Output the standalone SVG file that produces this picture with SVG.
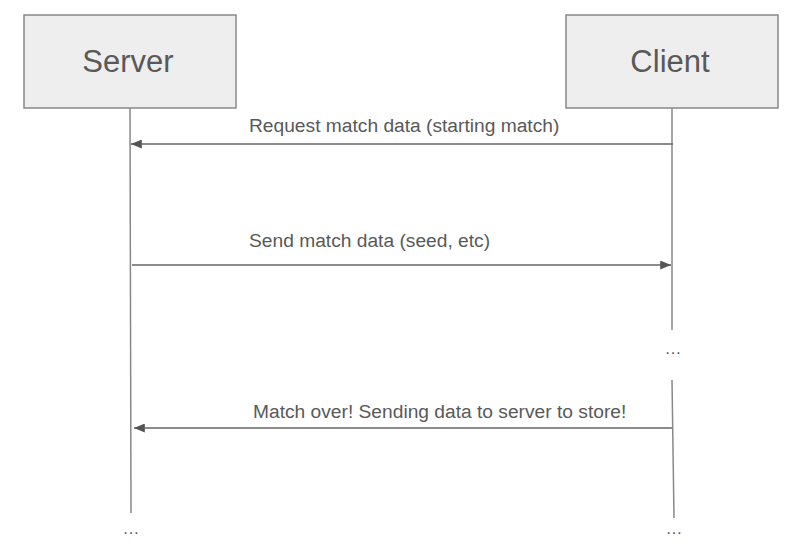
<svg xmlns="http://www.w3.org/2000/svg" width="796" height="551" viewBox="0 0 796 551">
<style>
.box{fill:#eeeeee;stroke:#888888;stroke-width:1.5}
.title{font-family:"Liberation Sans",Arial,sans-serif;font-size:31px;fill:#595959;text-anchor:middle}
.life{stroke:#888888;stroke-width:1.5;fill:none}
.msg{stroke:#666666;stroke-width:1.5;fill:none}
.lbl{font-family:"Liberation Sans",Arial,sans-serif;font-size:19.2px;fill:#595959}
.dots{font-family:"Liberation Sans",Arial,sans-serif;font-size:17px;fill:#595959;text-anchor:middle}
</style>
<defs>
<marker id="ah" viewBox="0 0 12 10" refX="12" refY="5" markerWidth="12" markerHeight="9" markerUnits="userSpaceOnUse" orient="auto">
<path d="M0,0 L12,5 L0,10 Z" fill="#555555"/>
</marker>
</defs>
<rect width="796" height="551" fill="#ffffff"/>
<g id="server">
<rect class="box" x="24" y="15" width="212" height="93"/>
<text class="title" x="128" y="72">Server</text>
</g>
<g id="client">
<rect class="box" x="566" y="15" width="212" height="93"/>
<text class="title" x="670" y="72">Client</text>
</g>
<g id="connectors">
<path class="life" d="M130,108 L131,513"/>
<path class="life" d="M672,108 L672,330"/>
<path class="life" d="M672,380 L674,518"/>
<path class="msg" d="M673,144 L131,144" marker-end="url(#ah)"/>
<path class="msg" d="M132,265 L671,265" marker-end="url(#ah)"/>
<path class="msg" d="M672,428 L134,428" marker-end="url(#ah)"/>
</g>
<g id="labels">
<text class="lbl" x="249" y="132">Request match data (starting match)</text>
<text class="lbl" x="249" y="247">Send match data (seed, etc)</text>
<text class="lbl" x="253" y="418">Match over! Sending data to server to store!</text>
<text class="dots" x="673" y="354">…</text>
<text class="dots" x="131" y="534">…</text>
<text class="dots" x="674" y="534">…</text>
</g>
</svg>
